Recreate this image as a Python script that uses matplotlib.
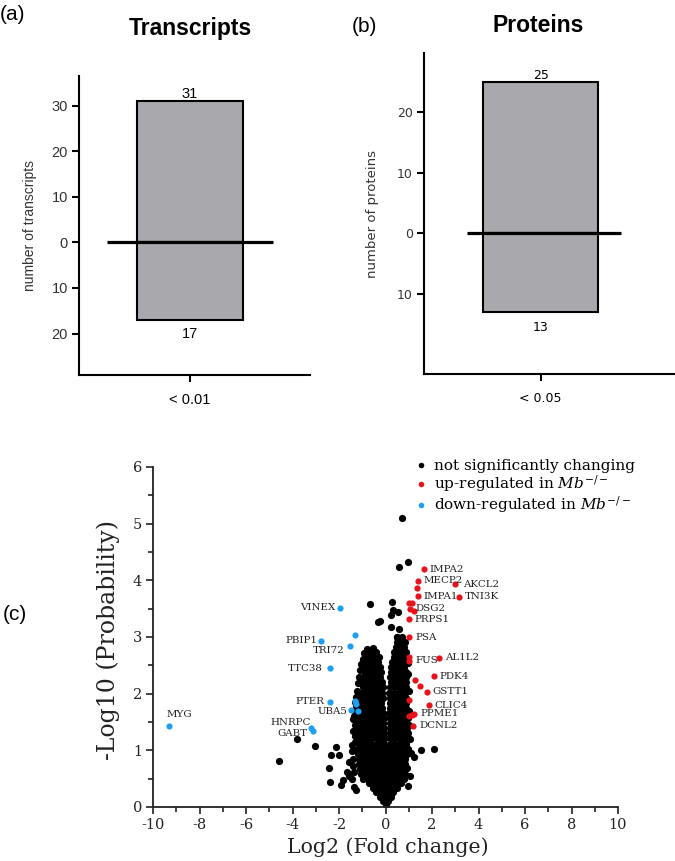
import matplotlib
matplotlib.use("Agg")
import matplotlib.pyplot as plt
from matplotlib.lines import Line2D
import numpy as np

plt.rcParams['axes.unicode_minus'] = False
plt.rcParams['mathtext.fontset'] = 'dejavuserif'

# ---------------- data ----------------
# panel (a) transcripts
transcript_up = 31
transcript_down = 17
transcript_cat = "< 0.01"
# panel (b) proteins
protein_up = 25
protein_down = 13
protein_cat = "< 0.05"

# panel (c) volcano: significantly up-regulated
up_x = [1.65, 1.39, 2.98, 1.36, 1.39, 3.16, 1.02, 1.12, 1.06, 1.24, 0.99, 1.03, 1.02, 1.02,
        2.31, 2.08, 1.27, 1.47, 1.77, 1.00, 1.86, 1.24, 1.12, 1.00, 1.20]
up_y = [4.20, 3.99, 3.94, 3.87, 3.72, 3.71, 3.60, 3.60, 3.50, 3.46, 3.31, 3.00, 2.65, 2.58,
        2.63, 2.31, 2.24, 2.14, 2.03, 1.88, 1.80, 1.65, 1.62, 1.60, 1.43]
up_labels = ['IMPA2', 'MECP2', 'AKCL2', '', 'IMPA1', 'TNI3K', '', '', 'DSG2', '', 'PRPS1', 'PSA',
             '', 'FUS', 'AL1L2', 'PDK4', '', '', 'GSTT1', '', 'CLIC4', 'PPME1', '', '', 'DCNL2']

# significantly down-regulated
down_x = [-1.96, -1.32, -2.76, -1.51, -2.38, -2.37, -1.33, -1.27, -1.47, -1.18, -9.33, -3.22, -3.10]
down_y = [3.52, 3.03, 2.93, 2.84, 2.45, 1.86, 1.87, 1.81, 1.71, 1.69, 1.43, 1.39, 1.34]
down_labels = ['VINEX', '', 'PBIP1', 'TRI72', 'TTC38', 'PTER', '', '', 'UBA5', '', 'MYG',
               'HNRPC', 'GABT']

# not significantly changing (read approximately from the dense cloud)
ns_points = [
    # isolated points
    (0.72, 5.10), (0.97, 4.32), (0.57, 4.24), (-0.67, 3.59), (0.30, 3.61), (0.33, 3.47),
    (0.52, 3.44), (0.25, 3.38), (-0.33, 3.26), (-0.25, 3.28), (0.22, 3.18), (0.58, 3.14),
    (0.48, 3.00), (-3.82, 1.20), (-3.04, 1.08), (-4.56, 0.81), (-2.13, 1.06), (-2.35, 0.92),
    (-1.98, 0.91), (-2.41, 0.68), (-2.37, 0.44), (-1.90, 0.38), (-1.83, 0.47), (1.54, 1.01),
    (2.08, 1.02), (1.24, 0.89), (0.97, 0.37), (0.93, 0.68), (-1.65, 0.62), (-1.57, 0.54),
    (-1.42, 1.10), (-1.30, 1.01), (-1.45, 0.50), (-1.35, 0.35), (1.05, 0.55), (1.10, 0.95),
    (-1.35, 1.60), (-1.30, 1.85), (-1.25, 0.30), (-1.55, 0.80), (0.95, 1.30),
    # left edge of the cloud
    (-1.35, 0.62), (-1.40, 0.72), (-1.38, 0.85), (-1.42, 0.98), (-1.33, 1.15), (-1.30, 1.25),
    (-1.38, 1.35), (-1.33, 1.45), (-1.40, 1.55), (-1.32, 1.70), (-1.28, 1.78), (-1.25, 1.95),
    (-1.22, 2.05), (-1.18, 2.18), (-1.15, 2.30), (-1.10, 2.42), (-1.05, 2.52), (-0.98, 2.62),
    (-0.92, 2.72), (-0.55, 2.80), (-0.80, 2.78),
    # right edge of the cloud
    (1.05, 1.20), (1.00, 1.45), (1.02, 1.70), (1.00, 2.05), (0.98, 2.35), (0.95, 2.55),
    # dense core (lower block)
    (0.0, 0.03), (-0.12, 0.10), (0.10, 0.10),
    (-0.25, 0.18), (-0.05, 0.18), (0.15, 0.18), (0.25, 0.18),
    (-0.40, 0.26), (-0.22, 0.26), (-0.04, 0.26), (0.14, 0.26), (0.32, 0.26),
    (-0.55, 0.34), (-0.37, 0.34), (-0.19, 0.34), (-0.01, 0.34), (0.17, 0.34), (0.35, 0.34), (0.50, 0.34),
    (-0.70, 0.42), (-0.52, 0.42), (-0.34, 0.42), (-0.16, 0.42), (0.02, 0.42), (0.20, 0.42),
    (0.38, 0.42), (0.56, 0.42), (0.68, 0.42),
    (-0.95, 0.50), (-0.77, 0.50), (-0.59, 0.50), (-0.41, 0.50), (-0.23, 0.50), (-0.05, 0.50),
    (0.13, 0.50), (0.31, 0.50), (0.49, 0.50), (0.67, 0.50), (0.80, 0.50),
    (-1.05, 0.58), (-0.87, 0.58), (-0.69, 0.58), (-0.51, 0.58), (-0.33, 0.58), (-0.15, 0.58),
    (0.03, 0.58), (0.21, 0.58), (0.39, 0.58), (0.57, 0.58), (0.75, 0.58), (0.85, 0.58),
    (-1.10, 0.67), (-0.92, 0.67), (-0.74, 0.67), (-0.56, 0.67), (-0.38, 0.67), (-0.20, 0.67),
    (-0.02, 0.67), (0.16, 0.67), (0.34, 0.67), (0.52, 0.67), (0.70, 0.67), (0.86, 0.67),
    (-1.15, 0.76), (-0.97, 0.76), (-0.79, 0.76), (-0.61, 0.76), (-0.43, 0.76), (-0.25, 0.76),
    (-0.07, 0.76), (0.11, 0.76), (0.29, 0.76), (0.47, 0.76), (0.65, 0.76), (0.83, 0.76),
    (-1.12, 0.85), (-0.94, 0.85), (-0.76, 0.85), (-0.58, 0.85), (-0.40, 0.85), (-0.22, 0.85),
    (-0.04, 0.85), (0.14, 0.85), (0.32, 0.85), (0.50, 0.85), (0.68, 0.85), (0.86, 0.85),
    (-1.20, 0.94), (-1.02, 0.94), (-0.84, 0.94), (-0.66, 0.94), (-0.48, 0.94), (-0.30, 0.94),
    (-0.12, 0.94), (0.06, 0.94), (0.24, 0.94), (0.42, 0.94), (0.60, 0.94), (0.78, 0.94), (0.92, 0.94),
    (-1.18, 1.03), (-1.00, 1.03), (-0.82, 1.03), (-0.64, 1.03), (-0.46, 1.03), (-0.28, 1.03),
    (-0.10, 1.03), (0.08, 1.03), (0.26, 1.03), (0.44, 1.03), (0.62, 1.03), (0.80, 1.03), (0.95, 1.03),
    (-1.15, 1.12), (-0.97, 1.12), (-0.79, 1.12), (-0.61, 1.12), (-0.43, 1.12), (-0.25, 1.12),
    (-0.07, 1.12), (0.18, 1.12), (0.36, 1.12), (0.54, 1.12), (0.72, 1.12), (0.90, 1.12),
    (-1.10, 1.21), (-0.92, 1.21), (-0.74, 1.21), (-0.56, 1.21), (-0.38, 1.21), (-0.20, 1.21),
    (-0.04, 1.21), (0.20, 1.21), (0.38, 1.21), (0.56, 1.21), (0.74, 1.21), (0.90, 1.21),
    (-1.12, 1.30), (-0.94, 1.30), (-0.76, 1.30), (-0.58, 1.30), (-0.40, 1.30), (-0.22, 1.30),
    (-0.06, 1.30), (0.20, 1.30), (0.38, 1.30), (0.56, 1.30), (0.74, 1.30), (0.92, 1.30),
    # dense core (two arms)
    (-1.15, 1.39), (-0.97, 1.39), (-0.79, 1.39), (-0.61, 1.39), (-0.43, 1.39), (-0.25, 1.39),
    (-0.08, 1.39), (0.20, 1.39), (0.38, 1.39), (0.56, 1.39), (0.74, 1.39), (0.92, 1.39),
    (-1.20, 1.48), (-1.02, 1.48), (-0.84, 1.48), (-0.66, 1.48), (-0.48, 1.48), (-0.30, 1.48),
    (-0.10, 1.48), (0.18, 1.48), (0.36, 1.48), (0.54, 1.48), (0.72, 1.48), (0.90, 1.48),
    (-1.10, 1.57), (-0.92, 1.57), (-0.74, 1.57), (-0.56, 1.57), (-0.38, 1.57), (-0.20, 1.57),
    (-0.07, 1.57), (0.20, 1.57), (0.38, 1.57), (0.56, 1.57), (0.74, 1.57), (0.95, 1.57),
    (-1.15, 1.66), (-0.97, 1.66), (-0.79, 1.66), (-0.61, 1.66), (-0.43, 1.66), (-0.25, 1.66),
    (-0.10, 1.66), (0.17, 1.66), (0.35, 1.66), (0.53, 1.66), (0.71, 1.66), (0.89, 1.66),
    (-1.05, 1.75), (-0.87, 1.75), (-0.69, 1.75), (-0.51, 1.75), (-0.33, 1.75), (-0.15, 1.75),
    (0.20, 1.75), (0.38, 1.75), (0.56, 1.75), (0.74, 1.75), (0.90, 1.75),
    (-1.08, 1.84), (-0.90, 1.84), (-0.72, 1.84), (-0.54, 1.84), (-0.36, 1.84), (-0.18, 1.84),
    (0.18, 1.84), (0.36, 1.84), (0.54, 1.84), (0.72, 1.84), (0.88, 1.84),
    (-1.00, 1.93), (-0.82, 1.93), (-0.64, 1.93), (-0.46, 1.93), (-0.28, 1.93), (-0.12, 1.93),
    (0.20, 1.93), (0.38, 1.93), (0.56, 1.93), (0.74, 1.93), (0.90, 1.93),
    (-1.05, 2.02), (-0.87, 2.02), (-0.69, 2.02), (-0.51, 2.02), (-0.33, 2.02), (-0.15, 2.02),
    (0.17, 2.02), (0.35, 2.02), (0.53, 2.02), (0.71, 2.02), (0.86, 2.02),
    (-0.98, 2.11), (-0.80, 2.11), (-0.62, 2.11), (-0.44, 2.11), (-0.26, 2.11), (-0.12, 2.11),
    (0.20, 2.11), (0.38, 2.11), (0.56, 2.11), (0.74, 2.11), (0.88, 2.11),
    (-1.00, 2.20), (-0.82, 2.20), (-0.64, 2.20), (-0.46, 2.20), (-0.28, 2.20), (-0.15, 2.20),
    (0.22, 2.20), (0.40, 2.20), (0.58, 2.20), (0.76, 2.20), (0.90, 2.20),
    (-0.95, 2.29), (-0.77, 2.29), (-0.59, 2.29), (-0.41, 2.29), (-0.23, 2.29),
    (0.20, 2.29), (0.38, 2.29), (0.56, 2.29), (0.74, 2.29), (0.88, 2.29),
    (-0.90, 2.38), (-0.72, 2.38), (-0.54, 2.38), (-0.36, 2.38), (-0.20, 2.38),
    (0.24, 2.38), (0.42, 2.38), (0.60, 2.38), (0.78, 2.38), (0.90, 2.38),
    (-0.92, 2.47), (-0.74, 2.47), (-0.56, 2.47), (-0.38, 2.47), (-0.22, 2.47),
    (0.25, 2.47), (0.43, 2.47), (0.61, 2.47), (0.79, 2.47),
    (-0.85, 2.56), (-0.67, 2.56), (-0.49, 2.56), (-0.31, 2.56),
    (0.30, 2.56), (0.48, 2.56), (0.66, 2.56), (0.84, 2.56),
    (-0.80, 2.65), (-0.62, 2.65), (-0.44, 2.65), (-0.28, 2.65),
    (0.35, 2.65), (0.53, 2.65), (0.71, 2.65), (0.88, 2.65),
    (-0.75, 2.74), (-0.60, 2.74), (-0.40, 2.74), (0.38, 2.74), (0.56, 2.74), (0.74, 2.74), (0.90, 2.74),
    (0.45, 2.83), (0.63, 2.83), (0.80, 2.83),
    (0.50, 2.92), (0.68, 2.92), (0.85, 2.92),
    (0.48, 3.00), (0.70, 3.00),
]
ns_x = [p[0] for p in ns_points]
ns_y = [p[1] for p in ns_points]

# ---------------- styling ----------------
W, H = 675, 861
fig = plt.figure(figsize=(W / 100, H / 100), dpi=100)
sans = ['Liberation Sans', 'DejaVu Sans']
serif = ['DejaVu Serif']
bar_gray = '#a9a9ad'
tick_gray = '#333333'


def fx(px):
    return px / W


def fy(py):
    return 1 - py / H


def bar_panel(rect, up, down, cat, ylim, xlim, yticks, zl, ylabel, tick_font, tsize, lsize):
    ax = fig.add_axes(rect)
    ax.bar([0], [up], width=0.46 * (xlim[1] - xlim[0]), color=bar_gray, edgecolor='black',
           linewidth=1.5, zorder=2)
    ax.bar([0], [-down], width=0.46 * (xlim[1] - xlim[0]), color=bar_gray, edgecolor='black',
           linewidth=1.5, zorder=2)
    ax.plot(zl, [0, 0], color='black', lw=2.3, zorder=3, solid_capstyle='butt')
    ax.set_xlim(*xlim)
    ax.set_ylim(*ylim)
    ax.set_yticks(yticks)
    ax.set_yticklabels([str(abs(t)) for t in yticks], fontfamily=tick_font, fontsize=tsize,
                       color=tick_gray)
    ax.set_xticks([0])
    ax.set_xticklabels([cat], fontfamily=tick_font, fontsize=tsize, color='black')
    for s in ['top', 'right']:
        ax.spines[s].set_visible(False)
    for s in ['left', 'bottom']:
        ax.spines[s].set_linewidth(1.5)
    ax.tick_params(width=1.5, length=5, pad=3)
    ax.tick_params(axis='x', pad=8)
    ax.set_ylabel(ylabel, fontfamily=tick_font, fontsize=lsize, color=tick_gray)
    ax.text(0, up, str(up), ha='center', va='bottom', fontfamily=tick_font, fontsize=tsize)
    ax.text(0, -down - 1.5, str(down), ha='center', va='top', fontfamily=tick_font, fontsize=tsize)
    return ax


axa = bar_panel([fx(79), fy(375), fx(310 - 79), (375 - 76) / H], transcript_up, transcript_down,
                transcript_cat, (-29.1, 36.5), (-0.96, 1.04), [-20, -10, 0, 10, 20, 30],
                [-0.72, 0.72], 'number of transcripts', sans, 10.5, 10)
axa.yaxis.set_label_coords((37 - 79) / (310 - 79), 0.5)
axb = bar_panel([fx(424), fy(374), fx(675 - 424) - 0.001, (374 - 53) / H], protein_up,
                protein_down, protein_cat, (-23.3, 29.8), (-0.932, 1.068), [-10, 0, 10, 20],
                [-0.59, 0.64], 'number of proteins', ['DejaVu Sans'], 9, 9.5)
axb.yaxis.set_label_coords((379 - 424) / (675 - 424), 0.5)

fig.text(fx(190), fy(28), 'Transcripts', ha='center', va='center', fontfamily=sans,
         fontweight='bold', fontsize=16.5)
fig.text(fx(538), fy(26), 'Proteins', ha='center', va='center', fontfamily=sans,
         fontweight='bold', fontsize=16.5)
fig.text(fx(0), fy(15), '(a)', ha='left', va='center', fontfamily=sans, fontsize=15)
fig.text(fx(352), fy(26), '(b)', ha='left', va='center', fontfamily=sans, fontsize=15)
fig.text(fx(3), fy(615), '(c)', ha='left', va='center', fontfamily=sans, fontsize=15)

# ---------------- volcano ----------------
axc = fig.add_axes([fx(153), fy(807), fx(618 - 153), (807 - 467) / H])
red = '#e8121a'
blue = '#1f9ff0'
axc.scatter(ns_x, ns_y, s=27, color='black', linewidths=0, zorder=2)
axc.scatter(up_x, up_y, s=20, color=red, linewidths=0, zorder=3)
axc.scatter(down_x, down_y, s=20, color=blue, linewidths=0, zorder=3)

up_off = {'IMPA2': (6, 0), 'MECP2': (6, 0), 'AKCL2': (8, -1), 'IMPA1': (6, 0), 'TNI3K': (6, 0),
          'DSG2': (5, 0), 'PRPS1': (6, 0), 'PSA': (6, 0), 'FUS': (6, 0), 'AL1L2': (6, 0),
          'PDK4': (6, 0), 'GSTT1': (6, 0), 'CLIC4': (6, 0), 'PPME1': (6, 0), 'DCNL2': (6, 0)}
for x, y, lab in zip(up_x, up_y, up_labels):
    if lab:
        axc.annotate(lab, (x, y), xytext=up_off[lab], textcoords='offset pixels', ha='left',
                     va='center', fontsize=7.4, fontfamily=serif, color='#222222', zorder=4)
down_off = {'VINEX': (-5, 0, 'right'), 'PBIP1': (-4, 0, 'right'), 'TRI72': (-6, -4, 'right'),
            'TTC38': (-7, 0, 'right'), 'PTER': (-6, 0, 'right'), 'UBA5': (-4, -1, 'right'),
            'MYG': (-2, 11, 'left'), 'HNRPC': (0, 6, 'right'), 'GABT': (-6, -2, 'right')}
for x, y, lab in zip(down_x, down_y, down_labels):
    if lab:
        dx, dy, ha = down_off[lab]
        axc.annotate(lab, (x, y), xytext=(dx, dy), textcoords='offset pixels', ha=ha,
                     va='center', fontsize=7.4, fontfamily=serif, color='#222222', zorder=4)

axc.set_xlim(-10, 10)
axc.set_ylim(0, 6)
axc.set_xticks(np.arange(-10, 11, 2))
axc.set_xticks(np.arange(-9, 10, 2), minor=True)
axc.set_yticks(np.arange(0, 7, 1))
axc.set_yticks(np.arange(0.5, 6, 1), minor=True)
for s in ['top', 'right']:
    axc.spines[s].set_visible(False)
for s in ['left', 'bottom']:
    axc.spines[s].set_linewidth(1.3)
    axc.spines[s].set_color('#222222')
axc.tick_params(which='major', length=5, width=1.2, color='#222222', labelsize=10.5, pad=3)
axc.tick_params(which='minor', length=3.5, width=1.2, color='#222222')
for lab in axc.get_xticklabels() + axc.get_yticklabels():
    lab.set_fontfamily(serif)
    lab.set_color('#222222')

fig.text(fx(108), fy(640), '-Log10 (Probability)', rotation=90, ha='center', va='center',
         fontfamily=serif, fontsize=17, color='#222222')
fig.text(fx(388), fy(847), 'Log2 (Fold change)', ha='center', va='center', fontfamily=serif,
         fontsize=14.8, color='#222222')

handles = [Line2D([], [], ls='none', marker='o', ms=4, color='black', mec='none'),
           Line2D([], [], ls='none', marker='o', ms=4, color=red, mec='none'),
           Line2D([], [], ls='none', marker='o', ms=4, color=blue, mec='none')]
labels = ['not significantly changing', 'up-regulated in $\\mathit{Mb}^{-/-}$',
          'down-regulated in $\\mathit{Mb}^{-/-}$']
leg = axc.legend(handles, labels, loc='upper left', bbox_to_anchor=(fx(416), fy(459)),
                 bbox_transform=fig.transFigure, frameon=False, handlelength=0.7,
                 handletextpad=0.45, borderpad=0, borderaxespad=0, labelspacing=0.02,
                 prop={'family': serif, 'size': 11})

fig.savefig('out.png', dpi=100)
